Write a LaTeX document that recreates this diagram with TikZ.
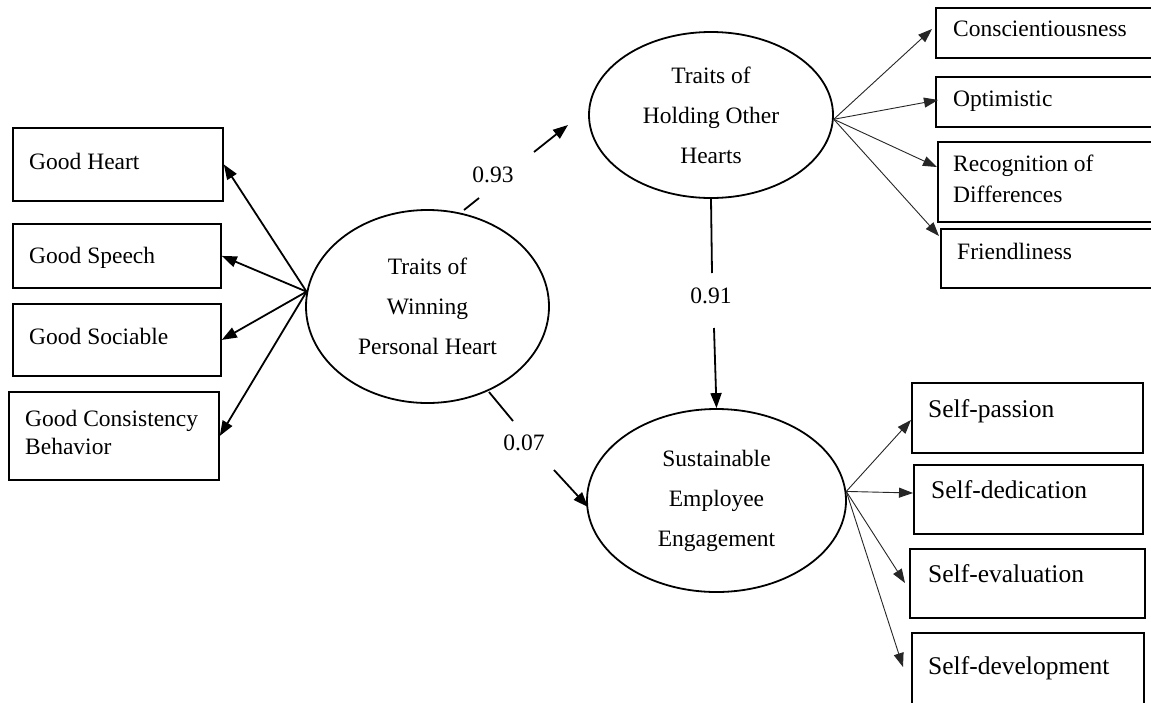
\documentclass[tikz,border=0pt]{standalone}
\usepackage{fontspec}
\setmainfont{Liberation Serif}
\usetikzlibrary{arrows.meta,shapes.geometric,calc}
\begin{document}
\begin{tikzpicture}[x=1pt,y=-1pt,
 box/.style={draw, line width=1.8pt, rectangle, inner sep=0pt, anchor=north west},
 txt/.style={inner sep=0pt, anchor=base west, align=left, font=\fontsize{23.5}{29}\selectfont},
 btxt/.style={inner sep=0pt, anchor=base west, font=\fontsize{25.5}{30}\selectfont},
 lat/.style={draw, ellipse, line width=1.8pt, inner sep=0pt, align=center, font=\fontsize{23.5}{40}\selectfont},
 bigarrow/.style={line width=1.8pt, -{Triangle[length=15pt,width=11pt]}},
 thinarrow/.style={line width=0.9pt, draw=black!85, -{Triangle[length=14pt,width=10pt]}},
 plainline/.style={line width=1.8pt},
 coef/.style={inner sep=0pt, anchor=base, font=\fontsize{23.5}{28}\selectfont},
]
\useasboundingbox (0,0) rectangle (1151,702);
\fill[white] (0,0) rectangle (1151,702);

% latent variables
\node[lat, minimum width=243pt, minimum height=193pt] (W) at (427.5,306.5) {Traits of\\Winning\\Personal Heart};
\node[lat, minimum width=244pt, minimum height=166pt] (H) at (711,115) {Traits of\\Holding Other\\Hearts};
\node[lat, minimum width=259pt, minimum height=183pt] (S) at (716.5,500.5) {Sustainable\\Employee\\Engagement};

% left boxes
\node[box, minimum width=210pt, minimum height=73pt] (gh) at (12,127) {};
\node[box, minimum width=208pt, minimum height=64pt] (gs) at (12,223) {};
\node[box, minimum width=208pt, minimum height=72pt] (gso) at (12,303) {};
\node[box, minimum width=210pt, minimum height=88pt] (gc) at (8,391) {};
\node[txt] (tgh) at (29,169) {Good Heart};
\node[txt] (tgs) at (29,263) {Good Speech};
\node[txt] (tgso) at (29,344) {Good Sociable};
\node[txt, font=\fontsize{23.5}{28}\selectfont] (tgc) at (25,454) {Good Consistency\\Behavior};

% top right boxes
\node[box, minimum width=230pt, minimum height=50pt] (con) at (935,7) {};
\node[box, minimum width=230pt, minimum height=50pt] (opt) at (935,76) {};
\node[box, minimum width=228pt, minimum height=80pt] (rec) at (937,141) {};
\node[box, minimum width=225pt, minimum height=59pt] (fri) at (940,228) {};
\node[txt] (tcon) at (953,36) {Conscientiousness};
\node[txt] (topt) at (953,106) {Optimistic};
\node[txt, font=\fontsize{23.5}{31}\selectfont] (trec) at (953,202) {Recognition of\\Differences};
\node[txt] (tfri) at (957,259) {Friendliness};

% bottom right boxes
\node[box, minimum width=231pt, minimum height=70pt] (sp) at (911,382) {};
\node[box, minimum width=229pt, minimum height=69pt] (sd) at (913,464) {};
\node[box, minimum width=235pt, minimum height=69pt] (se) at (909,548) {};
\node[box, minimum width=232pt, minimum height=90pt] (sdv) at (911,632) {};
\node[btxt] (tsp) at (928,417) {Self-passion};
\node[btxt] (tsd) at (931,498) {Self-dedication};
\node[btxt] (tse) at (928,582) {Self-evaluation};
\node[btxt] (tsdv) at (928,674) {Self-development};

% left arrows
\draw[bigarrow] (W.173) -- (gh.east);
\draw[bigarrow] (W.173) -- (gs.east);
\draw[bigarrow] (W.173) -- (gso.east);
\draw[bigarrow] (W.173) -- (gc.east);

% top right arrows
\draw[thinarrow] (H.-2) -- ([shift={(-3pt,-22pt)}]con.north west);
\draw[thinarrow] (H.-2) -- ([shift={(3pt,-24pt)}]opt.north west);
\draw[thinarrow] (H.-2) -- ([shift={(0pt,-26pt)}]rec.north west);
\draw[thinarrow] (H.-2) -- ([shift={(-1pt,-8pt)}]fri.north west);

% bottom right arrows
\draw[thinarrow] (S.4) -- ([shift={(0pt,-38pt)}]sp.north west);
\draw[thinarrow] (S.4) -- ([shift={(0pt,-29pt)}]sd.north west);
\draw[thinarrow] (S.4) -- ([shift={(-4pt,-35pt)}]se.north west);
\draw[thinarrow] (S.4) -- ([shift={(-8pt,-35pt)}]sdv.north west);

% structural paths with coefficients
\coordinate (a93) at (464,210);
\coordinate (b93) at (479,198);
\coordinate (c93) at (534,152);
\coordinate (d93) at (568,125);
\draw[plainline] (a93) -- (b93);
\draw[bigarrow] (c93) -- (d93);
\node[coef] (l93) at (493,182) {0.93};

\coordinate (e91) at (712,273);
\coordinate (f91) at (714,328);
\draw[plainline] (H.south) -- (e91);
\draw[bigarrow] (f91) -- (S.north);
\node[coef] (l91) at (711,303) {0.91};

\coordinate (a07) at (489,392);
\coordinate (b07) at (513,421);
\coordinate (c07) at (554,470);
\coordinate (d07) at (588,507);
\draw[plainline] (a07) -- (b07);
\draw[bigarrow] (c07) -- (d07);
\node[coef] (l07) at (524,450) {0.07};
\end{tikzpicture}
\end{document}
